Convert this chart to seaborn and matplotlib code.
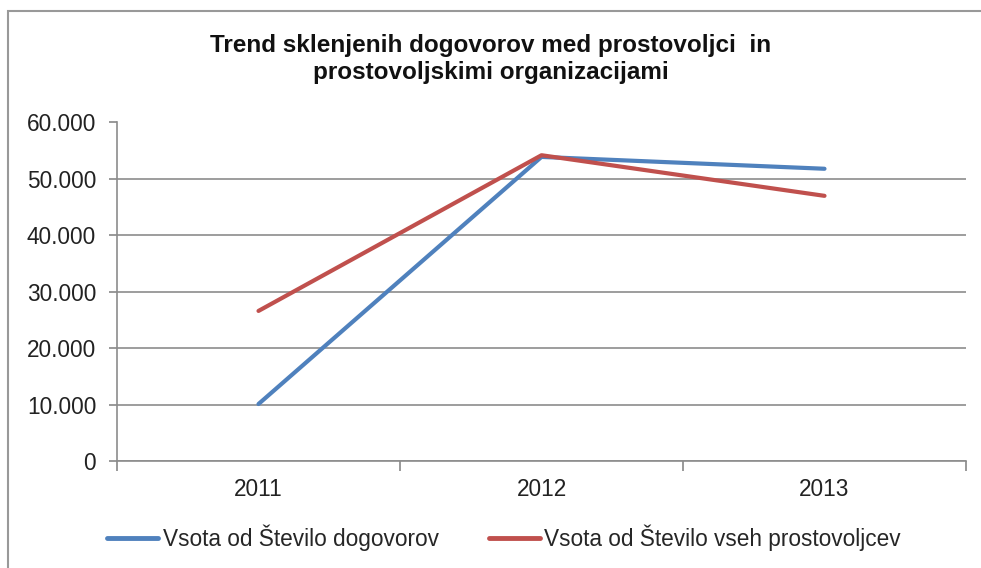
import matplotlib
matplotlib.use("Agg")
import matplotlib.pyplot as plt
import seaborn as sns
import pandas as pd
from matplotlib.lines import Line2D
from matplotlib.patches import Rectangle
from matplotlib.ticker import FuncFormatter, FixedLocator

years = ["2011", "2012", "2013"]
dogovori = [10100, 53900, 51800]
prostovoljci = [26600, 54200, 47000]
series_names = ["Vsota od Število dogovorov", "Vsota od Število vseh prostovoljcev"]
title = "Trend sklenjenih dogovorov med prostovoljci  in\nprostovoljskimi organizacijami"
colors = ["#4F81BD", "#C0504D"]

df = pd.DataFrame({
    "Leto": years * 2,
    "Vrednost": dogovori + prostovoljci,
    "Serija": [series_names[0]] * 3 + [series_names[1]] * 3,
})
df["x"] = list(range(3)) * 2

sns.set_theme(style="white")
plt.rcParams["font.family"] = ["Liberation Sans", "DejaVu Sans"]

fig = plt.figure(figsize=(9.81, 5.68), dpi=100)
W, H = 981, 568
ax = fig.add_axes([117 / W, 1 - 461 / H, (966 - 117) / W, (461 - 122.5) / H])

sns.lineplot(data=df, x="x", y="Vrednost", hue="Serija", palette=colors,
             linewidth=3.0, ax=ax, legend=False, sort=False)

ax.set_xlim(-0.5, 2.5)
ax.set_ylim(0, 60000)
ax.set_yticks(range(0, 60001, 10000))
ax.yaxis.set_major_formatter(FuncFormatter(lambda v, p: "0" if v == 0 else f"{int(v):,}".replace(",", ".")))
ax.set_xticks([0, 1, 2])
ax.set_xticklabels(years)
ax.xaxis.set_minor_locator(FixedLocator([-0.5, 0.5, 1.5, 2.5]))
ax.tick_params(axis="x", which="major", length=0, pad=12, labelsize=16.3, colors="#222222")
ax.tick_params(axis="x", which="minor", length=7, width=1.2, color="#888888", direction="out", bottom=True)
ax.tick_params(axis="y", length=6, width=1.2, color="#888888", direction="out", left=True,
               pad=9, labelsize=16.3, labelcolor="#222222")
ax.grid(axis="y", color="#8c8c8c", linewidth=1.2)
ax.set_axisbelow(True)
for s in ["top", "right"]:
    ax.spines[s].set_visible(False)
for s in ["left", "bottom"]:
    ax.spines[s].set_color("#8c8c8c")
    ax.spines[s].set_linewidth(1.2)
ax.set_xlabel("")
ax.set_ylabel("")

fig.text(491 / W, 1 - 59 / H, title, ha="center", va="center", fontsize=17.5,
         fontweight="bold", color="#111111", linespacing=1.2)

handles = [Line2D([0], [0], color=c, linewidth=3.5) for c in colors]
fig.legend(handles, series_names, loc="center", bbox_to_anchor=(504 / W, 1 - 538 / H),
           ncol=2, frameon=False, fontsize=16.3, handlelength=2.25, handletextpad=0.2,
           columnspacing=2.2)

fig.patches.append(Rectangle((8 / W, -0.1), 1.2, 1 - 11 / H + 0.1, transform=fig.transFigure,
                             fill=False, edgecolor="#999999", linewidth=1.5))

fig.savefig("out.png", dpi=100, facecolor="white")
